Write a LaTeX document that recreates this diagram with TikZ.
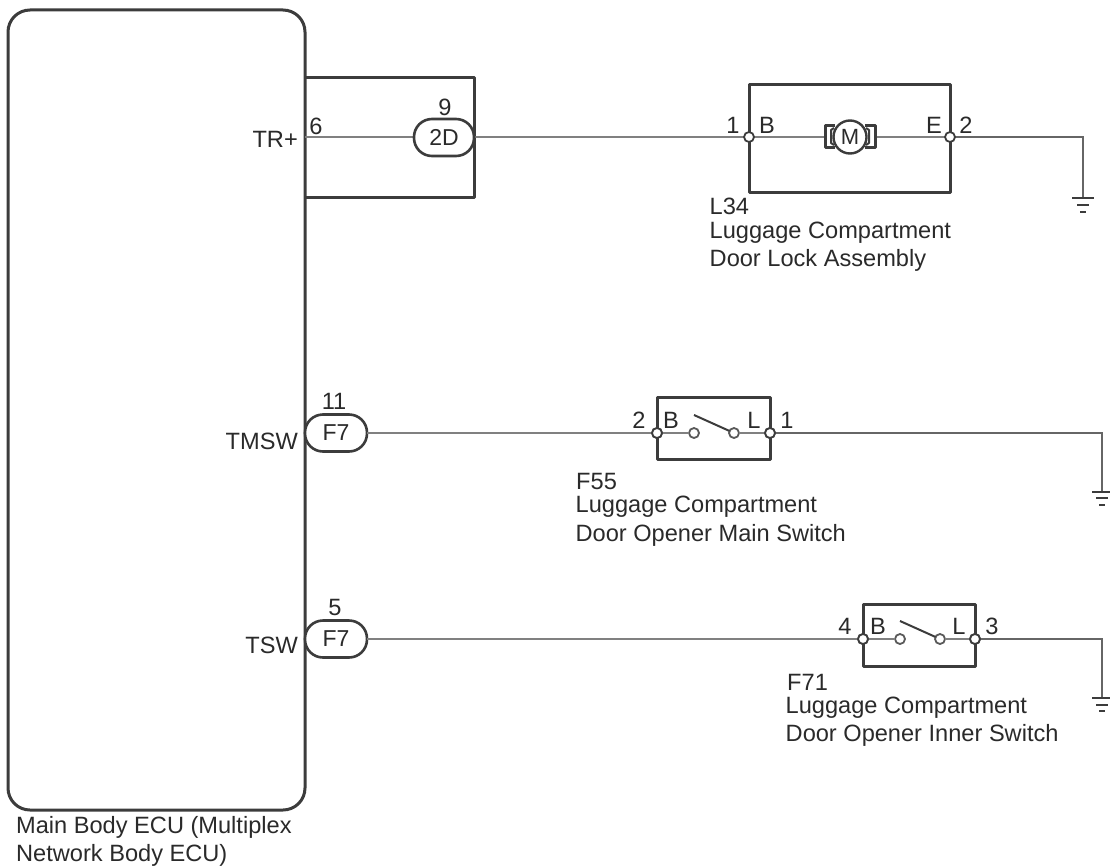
\documentclass[tikz,border=0pt]{standalone}
\usepackage{fontspec}
\setmainfont{Liberation Sans}
\tikzset{
  box/.style={draw=boxc,line width=3pt,line join=round,outer sep=0pt},
  wire/.style={draw=wirec,line width=2.2pt},
  thinwire/.style={draw=boxc,line width=1.6pt},
  pill/.style={draw=boxc,line width=2.6pt,fill=white,rounded corners=18pt,minimum width=60pt,minimum height=37pt,inner sep=0pt,outer sep=0pt,text=txtc,font=\fontsize{23}{23}\selectfont},
  term/.style={circle,draw=boxc,line width=1.8pt,fill=white,minimum size=10pt,inner sep=0pt,outer sep=0pt},
  lbl/.style={inner sep=0pt,text=txtc,font=\fontsize{23.6}{27}\selectfont},
  ml/.style={lbl,anchor=base west},
}
\definecolor{boxc}{HTML}{3C3C3C}
\definecolor{wirec}{HTML}{808080}
\definecolor{txtc}{HTML}{2A2A2A}
\begin{document}
\begin{tikzpicture}[x=1pt,y=-1pt]
\useasboundingbox (0,0) rectangle (1110,867);
\fill[white] (0,0) rectangle (1110,867);
% ECU
\node[box,rounded corners=22pt,minimum width=297pt,minimum height=800pt,anchor=north west,inner sep=0pt] (ecu) at (8,10) {};
\node[ml] (ecuname1) at (16,833) {Main Body ECU (Multiplex};
\node[ml] (ecuname2) at (16,861) {Network Body ECU)};
% junction box
\coordinate (jb1) at (305,77);
\coordinate (jb2) at (474,77);
\coordinate (jb3) at (474,197);
\coordinate (jb4) at (305,197);
\draw[box] (jb1) -- (jb2) -- (jb3) -- (jb4);
% wires top (under the symbols)
\coordinate (ecu6) at (305,137);
\coordinate (g1c) at (1083,137);
\coordinate (g1) at (1083,198);
\node[term,draw=none,fill=none] (l1) at (749,137) {};
\node[term,draw=none,fill=none] (l2) at (950,137) {};
\draw[wire] (ecu6) -- (l1);
\draw[thinwire,draw=wirec!80!black] (l2) -- (g1c) -- (g1);
% pills
\node[pill] (p2d) at (444,137.5) {2D};
\node[pill,minimum width=62pt] (pf1) at (336,433) {F7};
\node[pill,minimum width=62pt] (pf2) at (336,639) {F7};
% L34
\node[box,minimum width=201pt,minimum height=108pt,anchor=north west,inner sep=0pt] (l34) at (749,84) {};
% motor
\coordinate (mla) at (835,125.5);\coordinate (mlb) at (825.5,125.5);\coordinate (mlc) at (825.5,147.5);\coordinate (mld) at (835,147.5);
\coordinate (mra) at (865,125.5);\coordinate (mrb) at (875.5,125.5);\coordinate (mrc) at (875.5,147.5);\coordinate (mrd) at (865,147.5);
\draw[wire] (l1) -- (l2);
\draw[box,fill=white,line width=2.4pt] (mla) -- (mlb) -- (mlc) -- (mld);
\draw[box,fill=white,line width=2.4pt] (mra) -- (mrb) -- (mrc) -- (mrd);
\node[circle,draw=boxc,line width=2.4pt,fill=white,minimum size=33pt,inner sep=0pt,outer sep=0pt,text=txtc,font=\fontsize{22}{22}\selectfont] (mot) at (850,137) {M};
\draw[box,line width=2pt] (834,128) -- (831,130) -- (831,143) -- (834,145);
\draw[box,line width=2pt] (866,128) -- (869,130) -- (869,143) -- (866,145);
% F55
\node[box,minimum width=113pt,minimum height=62pt,anchor=north west,inner sep=0pt] (f55) at (657,397) {};
\node[term] (f1) at (657,433) {};
\node[term] (f2) at (770,433) {};
\node[term,draw=wirec!70!black] (c1) at (694,433) {};
\node[term,draw=wirec!70!black] (c2) at (734,433) {};
\coordinate (g2c) at (1102,433);
\coordinate (g2) at (1102,491);
\draw[wire] (pf1.east) -- (f1);
\draw[wire] (f1) -- (c1);
\draw[wire] (c2) -- (f2);
\draw[thinwire,line width=2pt] (694,415) -- (c2);
\draw[thinwire,draw=wirec!80!black] (f2) -- (g2c) -- (g2);
\draw[thinwire] (1092,492) -- (1110,492);
\draw[thinwire] (1096,498) -- (1108,498);
\draw[thinwire] (1099,505) -- (1105,505);
% F71
\node[box,minimum width=112pt,minimum height=62pt,anchor=north west,inner sep=0pt] (f71) at (863,604) {};
\node[term] (t1) at (863,639) {};
\node[term] (t2) at (975,639) {};
\node[term,draw=wirec!70!black] (d1) at (900,639) {};
\node[term,draw=wirec!70!black] (d2) at (940,639) {};
\coordinate (g3c) at (1102,639);
\coordinate (g3) at (1102,698);
\draw[wire] (pf2.east) -- (t1);
\draw[wire] (t1) -- (d1);
\draw[wire] (d2) -- (t2);
\draw[thinwire,line width=2pt] (900,621) -- (d2);
\draw[thinwire,draw=wirec!80!black] (t2) -- (g3c) -- (g3);
\draw[thinwire] (1092,698) -- (1110,698);
\draw[thinwire] (1096,705) -- (1108,705);
\draw[thinwire] (1099,711) -- (1105,711);
% ground 1
\draw[thinwire] (1072,198) -- (1094,198);
\draw[thinwire] (1077,205) -- (1089,205);
\draw[thinwire] (1080,212) -- (1086,212);
% terminals on top
\node[term] (lt1) at (l1) {};\node[term] (lt2) at (l2) {};
\node[term] at (f1) {};\node[term] at (f2) {};
\node[term] at (t1) {};\node[term] at (t2) {};
% pin labels
\node[lbl,anchor=east] (n1) at (298,139) {TR+};
\node[lbl,anchor=east] (n2) at (298,441) {TMSW};
\node[lbl,anchor=east] (n3) at (298,645) {TSW};
\node[lbl] (a1) at (316,126) {6};
\node[lbl] (a2) at (445,107) {9};
\node[lbl] (a3) at (334,401) {11};
\node[lbl] (a4) at (335,607) {5};
\node[lbl] (a5) at (733,125) {1};
\node[lbl] (a6) at (767,125) {B};
\node[lbl] (a7) at (934,125) {E};
\node[lbl] (a8) at (966,125) {2};
\node[lbl] (a9) at (639,420) {2};
\node[lbl] (a10) at (671,420) {B};
\node[lbl] (a11) at (754,420) {L};
\node[lbl] (a12) at (787,420) {1};
\node[lbl] (a13) at (845,626) {4};
\node[lbl] (a14) at (878,626) {B};
\node[lbl] (a15) at (959,626) {L};
\node[lbl] (a16) at (992,626) {3};
% names
\node[ml] (nl34a) at (709.5,214) {L34};
\node[ml] (nl34b) at (709.5,238) {Luggage Compartment};
\node[ml] (nl34c) at (709.5,266.5) {Door Lock Assembly};
\node[ml] (nf55a) at (576,489) {F55};
\node[ml] (nf55b) at (575.5,512.5) {Luggage Compartment};
\node[ml] (nf55c) at (575.5,541) {Door Opener Main Switch};
\node[ml] (nf71a) at (787,690.5) {F71};
\node[ml] (nf71b) at (785.5,713) {Luggage Compartment};
\node[ml] (nf71c) at (785.5,741.5) {Door Opener Inner Switch};
\end{tikzpicture}
\end{document}
